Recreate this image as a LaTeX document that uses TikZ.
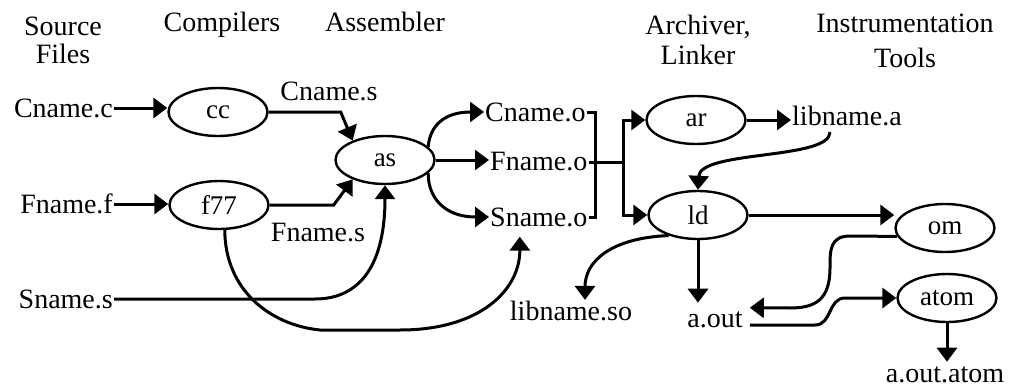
\documentclass[tikz,border=0pt]{standalone}
\usepackage{fontspec}
\setmainfont{Liberation Serif}
\usetikzlibrary{arrows.meta,shapes.geometric}
\begin{document}
\begin{tikzpicture}[x=1pt,y=-1pt,
  every node/.style={font=\fontsize{28}{30}\selectfont, inner sep=1pt},
  tool/.style={draw, ellipse, line width=2.4pt, minimum width=99pt, minimum height=48pt, inner sep=0pt, font=\fontsize{27}{30}\selectfont},
  head/.style={align=center},
  conn/.style={line width=3pt},
  arr/.style={conn, -{Triangle[length=14pt,width=20pt]}}]
\useasboundingbox (0,0) rectangle (1010,388);

% headings
\node[head, font=\fontsize{28}{28}\selectfont] (hsrc) at (63,40) {Source\\Files};
\node[anchor=base] (hcomp) at (222,31) {Compilers};
\node[anchor=base] (hasm) at (385,31) {Assembler};
\node[head, font=\fontsize{28}{30}\selectfont] (harch) at (698,40) {Archiver,\\Linker};
\node[head, font=\fontsize{28}{35}\selectfont] (hinst) at (905,41) {Instrumentation\\Tools};

% tools
\node[tool] (cc) at (218,112) {cc};
\node[tool] (f77) at (219,205) {f77};
\node[tool] (as) at (385,160) {as};
\node[tool] (ar) at (696,120) {ar};
\node[tool] (ld) at (698,215) {ld};
\node[tool] (om) at (945,228) {om};
\node[tool] (atom) at (947,298) {atom};

% files
\node[anchor=east] (cnamec) at (114,108) {Cname.c};
\node[anchor=east] (fnamef) at (114,204) {Fname.f};
\node[anchor=east] (snames) at (114,299) {Sname.s};
\node (cnames) at (329,91) {Cname.s};
\node (fnames) at (318,233) {Fname.s};
\node[anchor=west] (cnameo) at (484,112) {Cname.o};
\node[anchor=west] (fnameo) at (489,162) {Fname.o};
\node[anchor=west] (snameo) at (489,217) {Sname.o};
\node[anchor=west] (libnamea) at (791,116) {libname.a};
\node (libnameso) at (571,311) {libname.so};
\node (aout) at (715,320) {a.out};
\node (aoutatom) at (945,375) {a.out.atom};

% connectors
\draw[arr] (cnamec.east) -- (cnamec.east -| cc.west);
\draw[arr] (fnamef.east) -- (fnamef.east -| f77.west);
\draw[arr] (cc.east) -- ++(72,0) -- (as.149);
\draw[arr] (f77.east) -- ++(64,0) -- (as.211);
\draw[arr] (snames.east) -- (315,299) .. controls (362,299) and (385,262) .. (as.south);
\draw[arr] (f77.283) .. controls (225,290) and (270,325) .. (320,330) -- (400,330) .. controls (480,330) and (520,290) .. ([xshift=-19pt,yshift=-9pt]snameo.south);
\draw[arr] (as.17) .. controls (430,125) and (445,112) .. (cnameo.west);
\draw[arr] (as.east) -- (as.east -| fnameo.west);
\draw[arr] (as.343) .. controls (428,198) and (445,217) .. (snameo.west);
\draw[conn] (cnameo.east) -- ++(9,0) |- (snameo.east);
\draw[arr] (fnameo.east) -- ++(35,0) |- (ar.west);
\draw[arr] (fnameo.east) -- ++(35,0) |- (ld.west);
\draw[arr] (ar.east) -- (ar.east -| libnamea.west);
\draw[arr] ([xshift=-17pt,yshift=-5pt]libnamea.south) .. controls (830,160) and (700,150) .. (ld.north);
\draw[arr] (ld.east) -- (ld.east -| om.west);
\draw[arr] (om.190) -- (850,236) .. controls (830,236) and (830,250) .. (830,268) .. controls (830,300) and (815,308) .. (790,308) -- ([xshift=6pt,yshift=3pt]aout.north east);
\draw[arr] ([xshift=6pt,yshift=-5pt]aout.east) -- (815,325) .. controls (832,325) and (828,298) .. (845,298) -- (atom.west);
\draw[arr] (atom.south) -- ([yshift=4pt]atom.south |- aoutatom.north);
\draw[arr] (ld.south) -- ([yshift=8pt]ld.south |- aout.north);
\draw[arr] (ld.215) .. controls (610,238) and (585,262) .. ([xshift=14pt]libnameso.north);
\end{tikzpicture}
\end{document}
